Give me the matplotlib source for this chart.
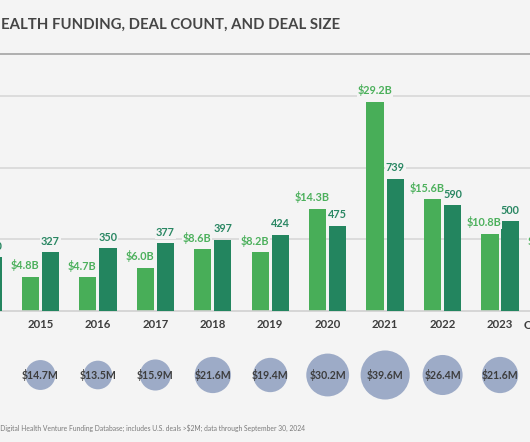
import matplotlib
matplotlib.use("Agg")
import matplotlib.pyplot as plt
from matplotlib.lines import Line2D
import numpy as np

# data (2014 and 2024 are cut off at the edges, estimated)
years = ["2014", "2015", "2016", "2017", "2018", "2019", "2020", "2021", "2022", "2023", "Q1–Q3 2024"]
funding_b = [4.1, 4.8, 4.7, 6.0, 8.6, 8.2, 14.3, 29.2, 15.6, 10.8, 8.2]
deal_count = [300, 327, 350, 377, 397, 424, 475, 739, 590, 500, 372]
deal_size_m = [14.3, 14.7, 13.5, 15.9, 21.6, 19.4, 30.2, 39.6, 26.4, 21.6, 22.0]

BG = "#f4f4f4"
LIGHT = "#48ae58"
DARK = "#23855f"
LIGHT_TXT = "#4cb05c"
DARK_TXT = "#2a8763"
BUBBLE = "#9dabc7"
TXT = "#3d3d3d"
FONT = "Lato"

plt.rcParams["font.family"] = [FONT, "DejaVu Sans"]

W, H = 530, 442
fig = plt.figure(figsize=(W / 100, H / 100), dpi=100, facecolor=BG)

px_per_group = 57.45
x0_px = -17.0  # centre of first group (2014), off canvas
xlim = (-0.6, len(years) - 0.4)
ax_left = (x0_px + xlim[0] * px_per_group) / W
ax_width = (xlim[1] - xlim[0]) * px_per_group / W

base_px = 311
px_per_b = 7.167
ytop = 32
ax = fig.add_axes([ax_left, (H - base_px) / H, ax_width, ytop * px_per_b / H])
ax.set_facecolor("none")
ax2 = ax.twinx()
ax.set_xlim(*xlim)
ax.set_ylim(0, ytop)
ax2.set_ylim(0, ytop * 40)

x = np.arange(len(years))
bw = 0.30
off = 0.175
ax.bar(x - off, funding_b, bw, color=LIGHT, zorder=2)
ax2.bar(x + off, deal_count, bw, color=DARK, zorder=2)

for gy in (10, 20, 30):
    ax.axhline(gy, color="#d8d8d8", lw=1.2, zorder=0)

for a in (ax, ax2):
    for s in a.spines.values():
        s.set_visible(False)
    a.tick_params(left=False, right=False, labelleft=False, labelright=False)
ax.spines["bottom"].set_visible(True)
ax.spines["bottom"].set_color("#d0d0d0")
ax.spines["bottom"].set_linewidth(1.2)

ax.set_xticks(x, years)
ax.tick_params(axis="x", length=0, pad=6, labelsize=8.2, labelcolor=TXT)
for t in ax.get_xticklabels():
    t.set_fontweight("bold")

box = dict(facecolor=BG, edgecolor="none", pad=0.6)
for i, (f, d) in enumerate(zip(funding_b, deal_count)):
    # funding label sits left of centre unless its bar clearly tops the count bar
    shift = 0.0 if f - d / 40 > 3 else -0.1
    ax2.annotate(f"{d}", (x[i] + off, d), xytext=(0, 4),
                 textcoords="offset points", ha="center", va="bottom",
                 fontsize=7.8, fontweight="bold", color=DARK_TXT, bbox=box,
                 zorder=3, annotation_clip=False)
    ax2.annotate(f"${f:.1f}B", (x[i] - off + shift, f * 40), xytext=(0, 4),
                 textcoords="offset points", ha="center", va="bottom",
                 fontsize=7.8, fontweight="bold", color=LIGHT_TXT, bbox=box,
                 zorder=4, annotation_clip=False)

# bubble row: circle area proportional to average deal size
axb = fig.add_axes([ax_left, (H - 410) / H, ax_width, 70 / H])
axb.set_xlim(*xlim)
axb.set_ylim(0, 1)
axb.axis("off")
sizes = [31.5 * v for v in deal_size_m]
axb.scatter(x, [0.5] * len(x), s=sizes, color=BUBBLE, edgecolors="none", clip_on=False)
for i, v in enumerate(deal_size_m):
    axb.text(x[i], 0.5, f"${v:.1f}M", ha="center", va="center",
             fontsize=7.6, fontweight="bold", color=TXT)

# title and rule
fig.text(1 / W, 1 - 24.5 / H, "EALTH FUNDING, DEAL COUNT, AND DEAL SIZE",
         ha="left", va="center", fontsize=10.7, fontweight="bold", color="#454545")
fig.add_artist(Line2D([0, 1], [1 - 53.5 / H] * 2, color="#a3a3a3", lw=1.2))

fig.text(305 / W, 1 - 428 / H,
         "Source: Rock Health Digital Health Venture Funding Database; includes U.S. deals >$2M; data through September 30, 2024",
         ha="right", va="center", fontsize=4.9, color="#7a7a7a")

fig.savefig("out.png", dpi=100, facecolor=BG)
